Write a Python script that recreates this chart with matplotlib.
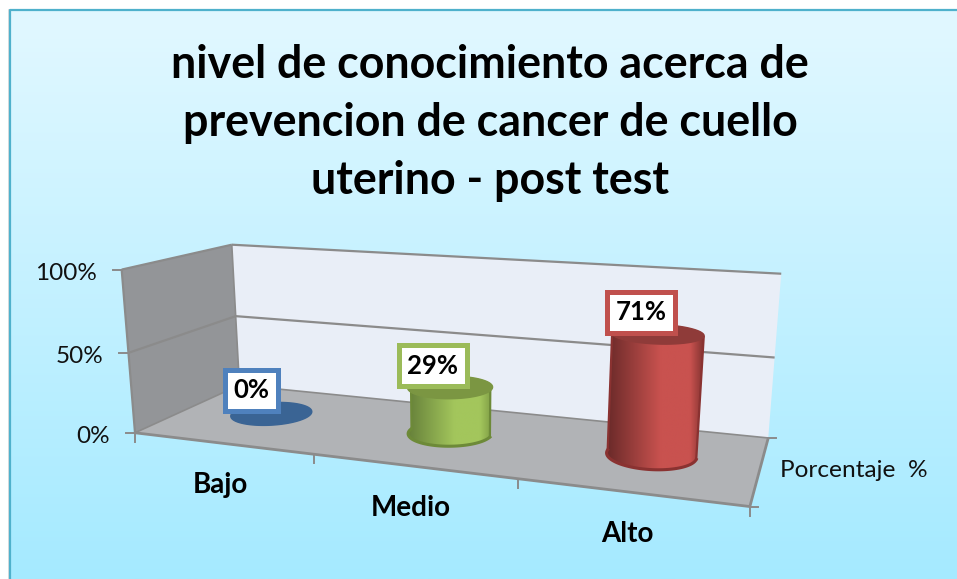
"""
plot.py
-------
Excel style 3D cylinder chart: post test knowledge level.
The chart box is fitted to a camera matrix, so every mark goes through project().
"""

import numpy as np
import matplotlib
matplotlib.use("Agg")
import matplotlib.pyplot as plt
from matplotlib.colors import LinearSegmentedColormap
from matplotlib.patches import Polygon

plt.rcParams["font.family"] = ["Lato", "DejaVu Sans"]

TITLE = "nivel de conocimiento acerca de\nprevencion de cancer de cuello\nuterino - post test"
CATEGORIES = ["Bajo", "Medio", "Alto"]
VALUES = [0, 29, 71]
LABELS = ["0%", "29%", "71%"]
Y_TICKS = [0, 50, 100]
Y_TICK_LABELS = ["0%", "50%", "100%"]
SERIES_NAME = "Porcentaje  %"

W, H = 957, 579

# box corners (category, depth, value) -> pixel, used to fit the camera
BOX_3D = [(0, 0, 0), (3, 0, 0), (3, 1, 0), (0, 1, 0), (0, 0, 100), (0, 1, 100),
          (3, 1, 100), (0, 0, 50), (0, 1, 50), (3, 1, 50)]
BOX_PX = [(135, 431), (750, 508), (768, 436), (239, 388), (121, 271), (232, 244),
          (781, 274), (129, 352), (236, 315), (775, 358)]

BAR_SHIFT = 0.47
BAR_SPACING = 1.014
BAR_DEPTH = 0.54
RADIUS_U, RADIUS_D = 0.21, 0.22
BAR_COLORS = [
    ["#2f5585", "#3d6ba3", "#34608f"],
    ["#66803a", "#a3c65c", "#7d9a44"],
    ["#6a2a29", "#c9524f", "#7c302e"],
]
TOP_COLORS = ["#3a6494", "#7b9642", "#8f3b39"]
RIM_COLORS = ["#2f5585", "#6d8a38", "#8a3231"]
BOX_EDGE = ["#4f81bd", "#9bbb59", "#c0504d"]
LABEL_OFFSET = [(-20, -23), (-17.5, -21.5), (-16, -21.5)]
EDGE = "#8b8b8b"


def fit_camera():
    rows = []
    for (x, y, z), (px, py) in zip(BOX_3D, BOX_PX):
        rows.append([x, y, z, 1, 0, 0, 0, 0, -px * x, -px * y, -px * z, -px])
        rows.append([0, 0, 0, 0, x, y, z, 1, -py * x, -py * y, -py * z, -py])
    return np.linalg.svd(np.array(rows, dtype=float))[2][-1].reshape(3, 4)


CAMERA = fit_camera()


def project(u, d, v):
    u, d, v = np.broadcast_arrays(u, d, v)
    pts = CAMERA @ np.vstack([u.ravel(), d.ravel(), v.ravel(), np.ones(u.size)])
    return np.column_stack([pts[0] / pts[2], pts[1] / pts[2]])


def gradient(ax, colors, extent, clip=None, vertical=False, zorder=1):
    ramp = np.linspace(0, 1, 256).reshape(-1, 1) if vertical else np.linspace(0, 1, 256).reshape(1, -1)
    cmap = LinearSegmentedColormap.from_list("g", colors)
    img = ax.imshow(ramp, cmap=cmap, extent=extent, aspect="auto", zorder=zorder, interpolation="bilinear")
    if clip is not None:
        img.set_clip_path(clip)


def edge_line(ax, a, b, lw=1.6, color=EDGE, zorder=3):
    pts = project(*np.array([a, b], dtype=float).T)
    ax.plot(pts[:, 0], pts[:, 1], color=color, lw=lw, zorder=zorder, solid_capstyle="butt")


def draw_cylinder(ax, u, value, i):
    t = np.linspace(0, 2 * np.pi, 121)
    cu, cd = u + RADIUS_U * np.cos(t), BAR_DEPTH + RADIUS_D * np.sin(t)
    base = project(cu, cd, 0)
    top = project(cu, cd, value)
    if value > 0:
        # front half of the base, then back half of the top
        outline = np.vstack([base[60:121], top[0:61]])
        body = Polygon(outline, closed=True, fc="none", ec="none", transform=ax.transData, zorder=5)
        ax.add_patch(body)
        x0, x1 = outline[:, 0].min(), outline[:, 0].max()
        y0, y1 = outline[:, 1].min(), outline[:, 1].max()
        left, mid, right = BAR_COLORS[i]
        stops = [(0, left), (0.55, mid), (0.85, mid), (1, right)]
        gradient(ax, stops, (x0, x1, y1, y0), clip=body, zorder=5)
        ax.plot(base[60:121, 0], base[60:121, 1], color=RIM_COLORS[i], lw=2.2, zorder=6)
        ax.plot([base[60, 0], top[60, 0]], [base[60, 1], top[60, 1]], color=RIM_COLORS[i], lw=1.6, zorder=6)
        ax.plot([base[120, 0], top[120, 0]], [base[120, 1], top[120, 1]], color=RIM_COLORS[i], lw=1.6, zorder=6)
    ax.add_patch(Polygon(top, closed=True, fc=TOP_COLORS[i], ec=TOP_COLORS[i], lw=1, zorder=7))
    return project(u, BAR_DEPTH, value)[0]


def main():
    fig = plt.figure(figsize=(W / 100, H / 100), dpi=100)
    ax = fig.add_axes([0, 0, 1, 1])

    # chart area background
    gradient(ax, ["#e2f8ff", "#a5eaff"], (10, W, H, 10), vertical=True, zorder=0)
    ax.plot([8.5, 8.5], [10, H], color="#dcdcdc", lw=2, zorder=0)
    ax.plot([10, 10, W], [H, 10, 10], color="#4fb1cc", lw=1.6, zorder=1)

    # walls and floor
    side = project(*np.array([(0, 0, 0), (0, 1, 0), (0, 1, 100), (0, 0, 100)], dtype=float).T)
    back = project(*np.array([(0, 1, 0), (3, 1, 0), (3, 1, 100), (0, 1, 100)], dtype=float).T)
    floor = project(*np.array([(0, 0, 0), (3, 0, 0), (3, 1, 0), (0, 1, 0)], dtype=float).T)
    ax.add_patch(Polygon(side, closed=True, fc="#939598", ec="none", zorder=2))
    ax.add_patch(Polygon(back, closed=True, fc="#e9eef7", ec="none", zorder=2))
    ax.add_patch(Polygon(floor, closed=True, fc="#b1b3b6", ec="none", zorder=2))

    for v, tick in zip(Y_TICKS, Y_TICK_LABELS):
        if v > 0:
            edge_line(ax, (0, 0, v), (0, 1, v))
            edge_line(ax, (0, 1, v), (3, 1, v))
        x, y = project(0, 0, v)[0]
        ax.plot([x - 9, x], [y, y], color=EDGE, lw=1.4, zorder=3)
        ax.text(x - 25, y + 3.5, tick, ha="right", va="center", fontsize=17.5, color="#111111", zorder=8)

    edge_line(ax, (0, 0, 0), (0, 0, 100))
    edge_line(ax, (0, 1, 0), (0, 1, 100), lw=1.2)
    edge_line(ax, (0, 0, 0), (3, 0, 0), lw=2)
    edge_line(ax, (3, 0, 0), (3, 1, 0), lw=2)
    edge_line(ax, (0, 0, 0), (0, 1, 0), lw=1.2)
    edge_line(ax, (0, 1, 0), (3, 1, 0), lw=1.2)

    # depth ticks at the right of the floor
    for d in [0, 1]:
        x, y = project(3, d, 0)[0]
        ax.plot([x, x + 8], [y, y], color=EDGE, lw=1.4, zorder=3)

    # category ticks
    for u in range(len(CATEGORIES) + 1):
        x, y = project(u, 0, 0)[0]
        ax.plot([x, x], [y, y + 9], color=EDGE, lw=1.4, zorder=3)

    tops = []
    for i, value in enumerate(VALUES):
        tops.append(draw_cylinder(ax, BAR_SHIFT + i * BAR_SPACING, value, i))

    for i, (name, label) in enumerate(zip(CATEGORIES, LABELS)):
        x, y = project(i + 0.5, 0, 0)[0]
        ax.text(x - 2, y + 42, name, ha="center", va="center", fontsize=20, fontweight="bold", color="black", zorder=8)
        dx, dy = LABEL_OFFSET[i]
        ax.text(tops[i][0] + dx, tops[i][1] + dy, label, ha="center", va="center", fontsize=18.5,
                fontweight="bold", color="black", zorder=9,
                bbox=dict(boxstyle="square,pad=0.33", fc="white", ec=BOX_EDGE[i], lw=3.6))

    x, y = project(3, 0.5, 0)[0]
    ax.text(x + 20, y + 1, SERIES_NAME, ha="left", va="center", fontsize=17.6, color="#111111", zorder=8)

    ax.text(490, 123, TITLE, ha="center", va="center", fontsize=32.2, fontweight="bold",
            color="black", linespacing=1.47, zorder=8)

    ax.set_xlim(0, W)
    ax.set_ylim(H, 0)
    ax.axis("off")
    fig.savefig("out.png", dpi=100)


if __name__ == "__main__":
    main()
